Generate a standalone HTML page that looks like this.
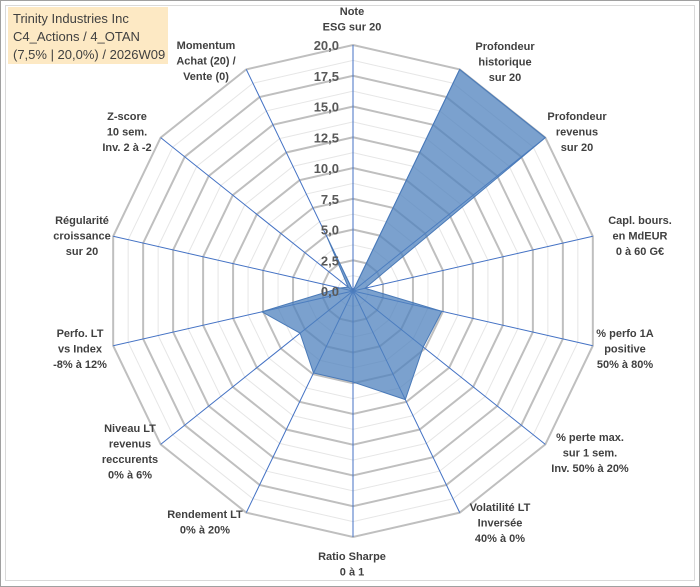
<!DOCTYPE html>
<html><head><meta charset="utf-8"><style>
html,body{margin:0;padding:0;background:#fff;}
#wrap{position:relative;width:700px;height:587px;overflow:hidden;}
svg{position:absolute;left:0;top:0;}
.lbl{font-family:"Liberation Sans",sans-serif;font-weight:bold;font-size:11px;fill:#404040;}
.tick{font-family:"Liberation Sans",sans-serif;font-weight:bold;font-size:13px;fill:#595959;}
</style></head><body>
<div id="wrap">
<svg id="chart" width="700" height="587">
<rect x="0.5" y="0.5" width="699" height="586" fill="#fff" stroke="#a0a0a0"/>
<rect x="5.5" y="5.5" width="689" height="575" fill="none" stroke="#d9d9d9"/>
<rect x="8" y="7" width="160" height="57" fill="#fde9c4"/>
<text x="13" y="23" font-family="Liberation Sans,sans-serif" font-size="13" fill="#404040">Trinity Industries Inc</text>
<text x="13" y="41" font-family="Liberation Sans,sans-serif" font-size="13" fill="#404040">C4_Actions / 4_OTAN</text>
<text x="13" y="59" font-family="Liberation Sans,sans-serif" font-size="13" fill="#404040">(7,5% | 20,0%) / 2026W09</text>
</svg>
</div>
<script>
const categories=["Note ESG","Profondeur historique","Profondeur revenus","Capl. bours.","% perfo 1A","% perte max.","Volatilité LT","Ratio Sharpe","Rendement LT","Niveau LT revenus","Perfo. LT vs Index","Régularité croissance","Z-score","Momentum"];
const values=[0,20,20,1,7.4,7.3,9.8,7.4,7.4,5.5,7.6,1.1,0.5,4.8];
const tickLabels=["0,0","2,5","5,0","7,5","10,0","12,5","15,0","17,5","20,0"];
const labelLines=[["Note","ESG sur 20"],["Profondeur","historique","sur 20"],["Profondeur","revenus","sur 20"],["Capl. bours.","en MdEUR","0 à 60 G€"],["% perfo 1A","positive","50% à 80%"],["% perte max.","sur 1 sem.","Inv. 50% à 20%"],["Volatilité LT","Inversée","40% à 0%"],["Ratio Sharpe","0 à 1"],["Rendement LT","0% à 20%"],["Niveau LT","revenus","reccurents","0% à 6%"],["Perfo. LT","vs Index","-8% à 12%"],["Régularité","croissance","sur 20"],["Z-score","10 sem.","Inv. 2 à -2"],["Momentum","Achat (20) /","Vente (0)"]];
const labelPos=[[352,15],[505,50],[577,120],[640,224],[625,337],[590,441],[500,511],[352,560],[205,518],[130,432],[80,337],[82,224],[127,120],[206,49]];
const NS="http://www.w3.org/2000/svg";
const svg=document.getElementById('chart');
const cx=353,cy=291,R=246,maxV=20,N=categories.length;
function ang(i){return i*2*Math.PI/N;}
function pt(i,v){const r=v/maxV*R;return [cx+r*Math.sin(ang(i)),cy-r*Math.cos(ang(i))];}
function mk(tag,attrs){const e=document.createElementNS(NS,tag);for(const k in attrs)e.setAttribute(k,attrs[k]);svg.appendChild(e);return e;}
// grid rings
for(let s=1;s<=16;s++){
  const v=s*1.25;const pts=[];for(let i=0;i<N;i++)pts.push(pt(i,v).join(','));
  const major=s%2===0;
  const g=mk('polygon',{points:pts.join(' '),fill:'none',stroke:major?'#bfbfbf':'#e6e6e6','stroke-width':major?2:1});
  
  
}
// axes
for(let i=0;i<N;i++){
  const p=pt(i,maxV);
  const l=mk('line',{x1:cx,y1:cy,x2:p[0],y2:p[1],stroke:'#4472c4','stroke-width':1});
  
  
}
// series
const sp=values.map((v,i)=>pt(i,v).join(',')).join(' ');
const poly=mk('polygon',{points:sp,fill:'#4f81bd','fill-opacity':0.75,stroke:'#4a7ab8','stroke-width':1});


// tick labels
tickLabels.forEach((t,k)=>{
  const e=mk('text',{x:339,y:cy-k*2.5/maxV*R+5,'text-anchor':'end',class:'tick'});
  e.textContent=t;
  
  
});
// category labels
labelLines.forEach((lines,i)=>{
  const e=mk('text',{class:'lbl','text-anchor':'middle'});
  
  
  lines.forEach((ln,j)=>{
    const ts=document.createElementNS(NS,'tspan');
    ts.setAttribute('x',labelPos[i][0]);ts.setAttribute('y',labelPos[i][1]+j*15.5);
    ts.textContent=ln;e.appendChild(ts);
  });
});
</script>
</body></html>
